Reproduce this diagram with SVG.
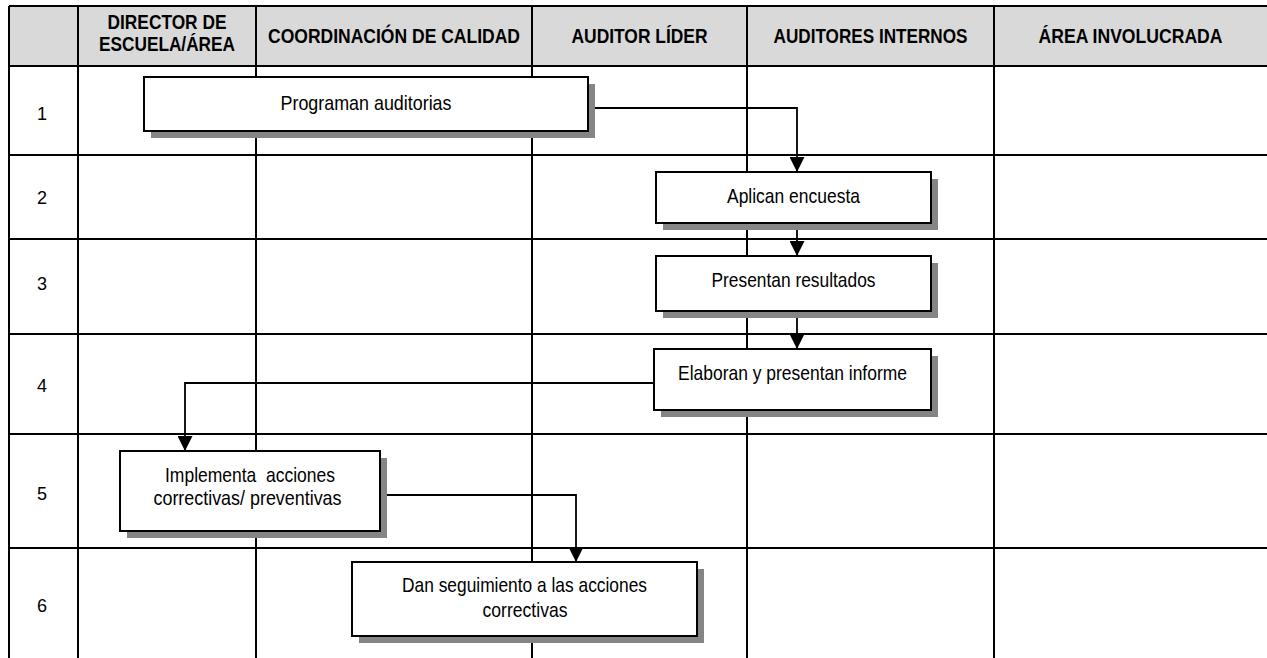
<svg xmlns="http://www.w3.org/2000/svg" width="1267" height="658" viewBox="0 0 1267 658">
  <defs>
    <style>
      .grid { stroke: #000; stroke-width: 2; fill: none; }
      .hdr { font-family: "Liberation Sans Narrow", "Liberation Sans", Arial, sans-serif; font-size: 21px; font-weight: bold; fill: #000; text-anchor: middle; }
      .num { font-family: "Liberation Sans", Arial, sans-serif; font-size: 18px; fill: #000; text-anchor: middle; }
      .lbl { font-family: "Liberation Sans Narrow", "Liberation Sans", Arial, sans-serif; font-size: 21px; fill: #000; text-anchor: middle; white-space: pre; }
      .box { fill: #fff; stroke: #000; stroke-width: 2; }
      .shadow { fill: #858585; stroke: none; }
      .conn { fill: none; stroke: #000; stroke-width: 1.8; }
    </style>
    <marker id="arrow" viewBox="0 0 16 16" refX="16" refY="8" markerWidth="16" markerHeight="15" markerUnits="userSpaceOnUse" orient="auto">
      <path d="M0,0 L16,8 L0,16 z" fill="#000"/>
    </marker>
  </defs>

  <rect x="0" y="0" width="1267" height="658" fill="#fff"/>

  <g id="table">
    <rect x="9" y="6" width="1258" height="60" fill="#d9d9d9"/>
    <path class="grid" d="M9,6 H1267 M9,66 H1267 M9,155 H1267 M9,239 H1267 M9,334 H1267 M9,434 H1267 M9,548 H1267"/>
    <path class="grid" d="M9,6 V658 M78,6 V658 M256,6 V658 M532,6 V658 M747,6 V658 M994,6 V658"/>
    <text class="hdr" x="167" y="29" textLength="119" lengthAdjust="spacingAndGlyphs">DIRECTOR DE</text>
    <text class="hdr" x="167" y="51" textLength="136" lengthAdjust="spacingAndGlyphs">ESCUELA/ÁREA</text>
    <text class="hdr" x="394" y="43" textLength="252" lengthAdjust="spacingAndGlyphs">COORDINACIÓN DE CALIDAD</text>
    <text class="hdr" x="639.5" y="43" textLength="136" lengthAdjust="spacingAndGlyphs">AUDITOR LÍDER</text>
    <text class="hdr" x="870.5" y="43" textLength="194" lengthAdjust="spacingAndGlyphs">AUDITORES INTERNOS</text>
    <text class="hdr" x="1130.5" y="43" textLength="184" lengthAdjust="spacingAndGlyphs">ÁREA INVOLUCRADA</text>
    <text class="num" x="42" y="120">1</text>
    <text class="num" x="42" y="204">2</text>
    <text class="num" x="42" y="290">3</text>
    <text class="num" x="42" y="392">4</text>
    <text class="num" x="42" y="500">5</text>
    <text class="num" x="42" y="612">6</text>
  </g>

  <g id="connectors">
    <path class="conn" d="M588,108 H797 V172" marker-end="url(#arrow)"/>
    <path class="conn" d="M797,223 V256" marker-end="url(#arrow)"/>
    <path class="conn" d="M797,311 V349" marker-end="url(#arrow)"/>
    <path class="conn" d="M654,383 H185 V451" marker-end="url(#arrow)"/>
    <path class="conn" d="M380,495 H576 V562" marker-end="url(#arrow)"/>
  </g>

  <g id="n1">
    <rect class="shadow" x="151" y="84" width="444" height="54"/>
    <rect class="box" x="144" y="77" width="444" height="54"/>
    <text class="lbl" x="366" y="110" textLength="171" lengthAdjust="spacingAndGlyphs">Programan auditorias</text>
  </g>
  <g id="n2">
    <rect class="shadow" x="663" y="179" width="275" height="51"/>
    <rect class="box" x="656" y="172" width="275" height="51"/>
    <text class="lbl" x="793.5" y="203" textLength="133" lengthAdjust="spacingAndGlyphs">Aplican encuesta</text>
  </g>
  <g id="n3">
    <rect class="shadow" x="663" y="263" width="275" height="55"/>
    <rect class="box" x="656" y="256" width="275" height="55"/>
    <text class="lbl" x="793.5" y="287" textLength="164" lengthAdjust="spacingAndGlyphs">Presentan resultados</text>
  </g>
  <g id="n4">
    <rect class="shadow" x="661" y="356" width="277" height="61"/>
    <rect class="box" x="654" y="349" width="277" height="61"/>
    <text class="lbl" x="792.5" y="380" textLength="229" lengthAdjust="spacingAndGlyphs">Elaboran y presentan informe</text>
  </g>
  <g id="n5">
    <rect class="shadow" x="127" y="458" width="260" height="80"/>
    <rect class="box" x="120" y="451" width="260" height="80"/>
    <text class="lbl" x="250" y="482" textLength="170" lengthAdjust="spacingAndGlyphs">Implementa  acciones</text>
    <text class="lbl" x="247.5" y="505" textLength="188" lengthAdjust="spacingAndGlyphs">correctivas/ preventivas</text>
  </g>
  <g id="n6">
    <rect class="shadow" x="359" y="569" width="345" height="74"/>
    <rect class="box" x="352" y="562" width="345" height="74"/>
    <text class="lbl" x="524.5" y="592" textLength="245" lengthAdjust="spacingAndGlyphs">Dan seguimiento a las acciones</text>
    <text class="lbl" x="525" y="617" textLength="85" lengthAdjust="spacingAndGlyphs">correctivas</text>
  </g>
</svg>
